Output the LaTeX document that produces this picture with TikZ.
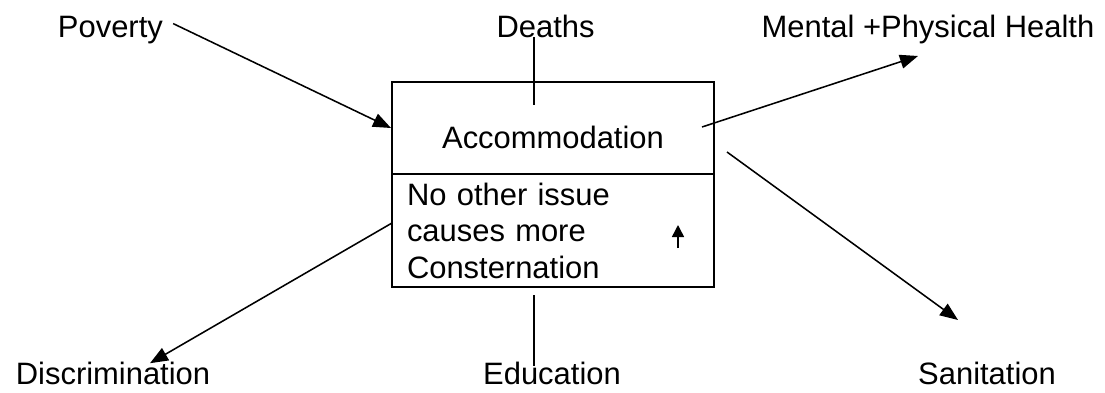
\documentclass[tikz,border=0pt]{standalone}
\usepackage{fontspec}
\setmainfont{Liberation Sans}
\usepackage{xcolor}
\usetikzlibrary{positioning,arrows.meta}

\begin{document}
\begin{tikzpicture}[
      every node/.style={font=\fontsize{22}{26}\selectfont},
      cellbox/.style={draw, line width=1.4pt, minimum width=8.05cm, inner sep=0pt},
      termlbl/.style={anchor=base, inner sep=0pt},
      link/.style={line width=1.1pt, -{Triangle[length=0.45cm, width=0.35cm]}},
      plain/.style={line width=1.1pt}
    ]
      \useasboundingbox (0,0) rectangle (27.625,9.8);

      % Centre: split box
      \node[cellbox, minimum height=2.3cm, text height=1cm, text depth=0pt] (acc) at (13.825,6.6) {Accommodation};
      \node[cellbox, minimum height=2.825cm, align=left, text width=7.3cm, inner xsep=0.375cm] (issue) at (13.825,4.0375) {No other issue\\causes more\\Consternation};
      \draw[line width=1.1pt, -{Triangle[length=0.3cm, width=0.3cm]}] (16.95,3.6) coordinate (upa) -- (16.95,4.175) coordinate (upb);

      % Top row
      \node[termlbl] (poverty) at (2.76,8.875) {Poverty};
      \node[termlbl] (deaths) at (13.64,8.875) {Deaths};
      \node[termlbl] (health) at (23.2,8.875) {Mental +Physical Health};
      \draw[link] ([xshift=0.25cm, yshift=0.15cm]poverty.east) -- (acc.west);
      \coordinate (dtop) at (13.35,8.875);
      \coordinate (dbot) at (13.35,7.175);
      \draw[plain] (dtop) -- (dbot);
      \coordinate (hstart) at (17.55,6.625);
      \coordinate (htip) at (22.95,8.4);
      \draw[link] (hstart) -- (htip);

      % Bottom row
      \node[termlbl] (disc) at (2.825,0.2) {Discrimination};
      \node[termlbl] (edu) at (13.8,0.2) {Education};
      \node[termlbl] (sanit) at (24.675,0.2) {Sanitation};
      \coordinate (dstart) at (9.8,4.225);
      \coordinate (dtip) at (3.75,0.72);
      \draw[link] (dstart) -- (dtip);
      \coordinate (etop) at (13.35,2.425);
      \coordinate (ebot) at (13.35,0.65);
      \draw[plain] (etop) -- (ebot);
      \coordinate (sstart) at (18.175,6.0);
      \coordinate (stip) at (23.95,1.8);
      \draw[link] (sstart) -- (stip);
    \end{tikzpicture}
\end{document}
